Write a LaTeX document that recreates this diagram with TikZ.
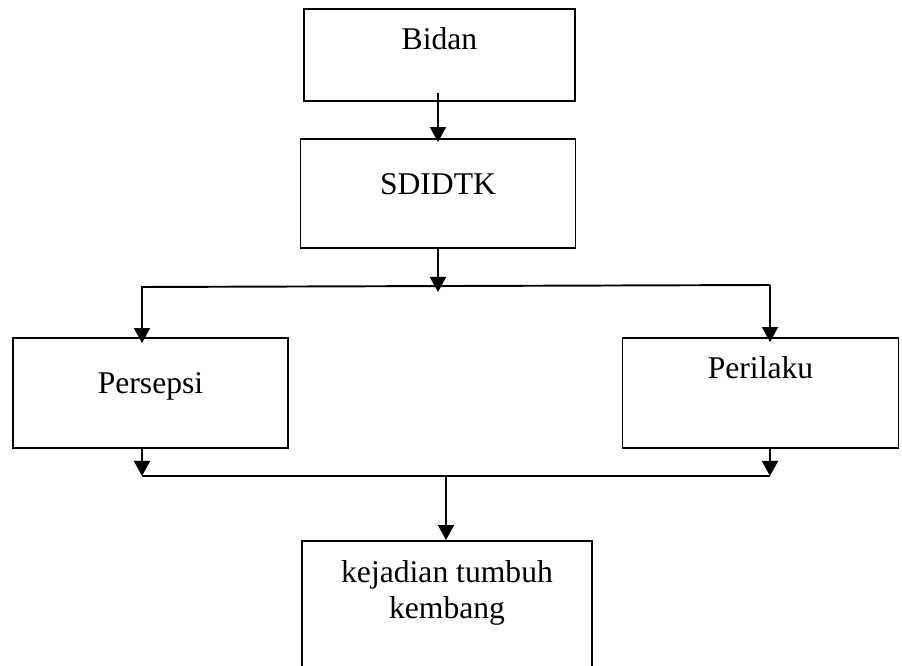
\documentclass[tikz,border=0pt]{standalone}
\usepackage{fontspec}
\setmainfont{Liberation Serif}
\usetikzlibrary{arrows.meta,positioning}
\tikzset{
  >={Triangle[length=3mm,width=3.2mm]},
  box/.style={draw,line width=1.1pt,inner xsep=0pt,inner ysep=0pt,align=center,
    font=\fontsize{18}{21}\selectfont},
  flow/.style={->,line width=1.1pt},
  bus/.style={line width=1.1pt},
}

\begin{document}
\begin{tikzpicture}
    \useasboundingbox (0,0) rectangle (18.04,-13.32);
    \node[box,minimum width=5.42cm,text height=0.82cm,text depth=1.02cm] (bidan) at (8.79,-1.10) {Bidan};
    \node[box,minimum width=5.50cm,text height=1.12cm,text depth=1.06cm] (sdidtk) at (8.76,-3.87) {SDIDTK};
    \node[box,minimum width=5.50cm,text height=1.12cm,text depth=1.08cm] (persepsi) at (3.01,-7.86) {Persepsi};
    \node[box,minimum width=5.52cm,text height=0.82cm,text depth=1.38cm] (perilaku) at (15.21,-7.86) {Perilaku};
    \node[box,minimum width=5.80cm,text height=1.56cm,text depth=1.62cm] (kejadian) at (8.94,-12.41) {kejadian tumbuh\\kembang};
    % upper split
    \coordinate (hub) at (8.76,-5.72);
    \coordinate (busl) at (2.84,-5.74);
    \coordinate (busr) at (15.40,-5.70);
    \draw[flow] ([yshift=0.18cm]sdidtk.north |- bidan.south) -- ([yshift=-0.08cm]sdidtk.north);
    \draw[flow] (sdidtk.south) -- ([yshift=-0.12cm]sdidtk.south |- hub);
    \draw[flow] (busr) -- (busl) -- ([yshift=-0.12cm]busl |- persepsi.north);
    \draw[flow] (busr) -- ([yshift=-0.1cm]busr |- perilaku.north);
    % lower merge
    \coordinate (mergel) at (2.84,-9.52);
    \coordinate (merger) at (15.40,-9.52);
    \coordinate (merge) at (8.92,-9.52);
    \draw[flow] (persepsi.south -| mergel) -- (mergel);
    \draw[flow] (perilaku.south -| merger) -- (merger);
    \draw[bus] (mergel) -- (merger);
    \draw[flow] (merge) -- (kejadian.north -| merge);
\end{tikzpicture}
\end{document}
